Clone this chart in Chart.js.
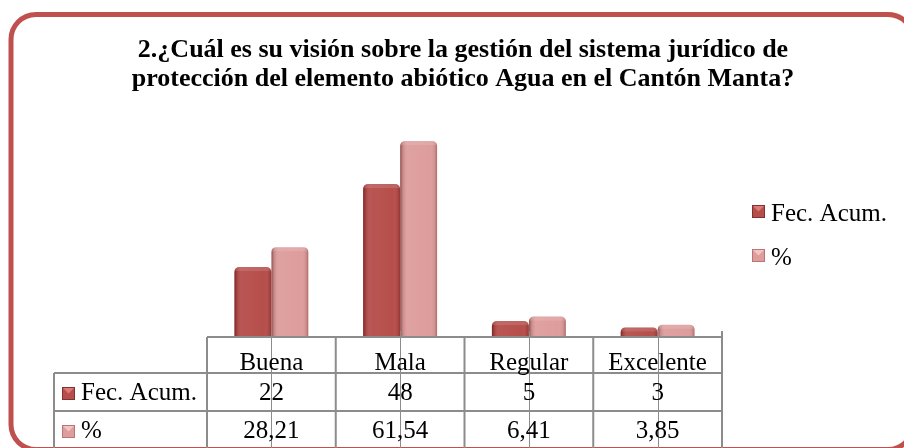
<!DOCTYPE html>
<html lang="es">
<head>
<meta charset="utf-8">
<title>Visión sobre la gestión del sistema jurídico</title>
<script src="https://cdn.jsdelivr.net/npm/chart.js@4.4.0/dist/chart.umd.min.js"></script>
<style>
  html, body { margin: 0; padding: 0; background: #fff; }
  #grafico { display: block; }
</style>
</head>
<body>
<canvas id="grafico" width="904" height="448"></canvas>
<script>
// Datos de la encuesta
const categorias = ["Buena", "Mala", "Regular", "Excelente"];
const fecAcum = [22, 48, 5, 3];
const porcentaje = [28.21, 61.54, 6.41, 3.85];
const series = ["Fec. Acum.", "%"];
const titulo = [
    "2.¿Cuál es su visión sobre la gestión del sistema jurídico de",
    "protección del elemento abiótico Agua en el Cantón Manta?"
];

const colores = ["#b64f4c", "#de9d9d"];
const bordes = ["#7e3331", "#b77574"];
const fuente = "'Liberation Serif', 'Times New Roman', serif";
const gris = "#8c8c8c";

function numero(v) {
    return String(v).replace(".", ",");
}

// cuadrito de la leyenda (con la "pirámide" clara arriba)
function marcador(ctx, x, y, s, i) {
    ctx.save();
    ctx.fillStyle = colores[i];
    ctx.fillRect(x, y, s, s);
    ctx.fillStyle = i === 0 ? "#e07a77" : "#f2c4c3";
    ctx.beginPath();
    ctx.moveTo(x + 1, y + 1);
    ctx.lineTo(x + s - 1, y + 1);
    ctx.lineTo(x + s / 2, y + s * 0.5);
    ctx.closePath();
    ctx.fill();
    ctx.strokeStyle = bordes[i];
    ctx.lineWidth = 1;
    ctx.strokeRect(x + 0.5, y + 0.5, s - 1, s - 1);
    ctx.restore();
}

// fondo, marco redondeado y título (el título del plugin se comprime al ancho del área)
const marco = {
    id: "marco",
    beforeDraw(chart) {
        const ctx = chart.ctx;
        ctx.save();
        ctx.fillStyle = "#fff";
        ctx.fillRect(0, 0, chart.width, chart.height);
        ctx.strokeStyle = "#c0504d";
        ctx.lineWidth = 5;
        ctx.beginPath();
        ctx.roundRect(11, 14.5, 902, 435, 25);
        ctx.stroke();

        ctx.fillStyle = "#000";
        ctx.font = "bold 26px " + fuente;
        ctx.textAlign = "center";
        ctx.textBaseline = "alphabetic";
        titulo.forEach((t, k) => ctx.fillText(t, 463, 57 + k * 29));
        ctx.restore();
    }
};

// sombreado de las barras tipo cilindro
const sombreado = {
    id: "sombreado",
    afterDatasetsDraw(chart) {
        const ctx = chart.ctx;
        chart.data.datasets.forEach((ds, i) => {
            chart.getDatasetMeta(i).data.forEach(bar => {
                const p = bar.getProps(["x", "y", "base", "width"], true);
                const izq = p.x - p.width / 2;
                const g = ctx.createLinearGradient(izq, 0, izq + p.width, 0);
                g.addColorStop(0, "rgba(60,0,0,0.5)");
                g.addColorStop(0.07, "rgba(60,0,0,0.15)");
                g.addColorStop(0.2, "rgba(255,255,255,0.04)");
                g.addColorStop(0.8, "rgba(255,255,255,0.0)");
                g.addColorStop(0.93, "rgba(60,0,0,0.08)");
                g.addColorStop(1, "rgba(60,0,0,0.3)");
                ctx.save();
                ctx.beginPath();
                ctx.roundRect(izq, p.y, p.width, p.base - p.y, [5, 5, 0, 0]);
                ctx.clip();
                ctx.fillStyle = g;
                ctx.fillRect(izq, p.y, p.width, p.base - p.y);
                ctx.fillStyle = "rgba(255,255,255,0.12)";
                ctx.fillRect(izq, p.y, p.width, 4);
                ctx.restore();
            });
        });
    }
};

// eje, tabla de datos y leyenda
const tabla = {
    id: "tabla",
    afterDraw(chart) {
        const ctx = chart.ctx;
        const x = chart.scales.x;
        const area = chart.chartArea;
        const base = area.bottom;
        const ancho = (area.right - area.left) / categorias.length;
        const filas = [base, base + 36, base + 74, base + 112];
        const izqTabla = 54;

        ctx.save();
        ctx.strokeStyle = gris;

        // marcas al centro de cada categoría
        ctx.lineWidth = 1;
        categorias.forEach((c, j) => {
            const cx = Math.round(x.getPixelForValue(j)) + 0.5;
            ctx.beginPath();
            ctx.moveTo(cx, base - 6);
            ctx.lineTo(cx, chart.height);
            ctx.stroke();
        });

        ctx.lineWidth = 2;
        // líneas horizontales
        ctx.beginPath();
        ctx.moveTo(area.left, filas[0]);
        ctx.lineTo(area.right, filas[0]);
        for (let k = 1; k < filas.length; k++) {
            ctx.moveTo(izqTabla, filas[k]);
            ctx.lineTo(area.right, filas[k]);
        }
        // líneas verticales
        for (let j = 0; j <= categorias.length; j++) {
            const bx = area.left + j * ancho;
            ctx.moveTo(bx, j === categorias.length ? base - 6 : base);
            ctx.lineTo(bx, chart.height);
        }
        ctx.moveTo(izqTabla, filas[1]);
        ctx.lineTo(izqTabla, chart.height);
        ctx.stroke();

        // textos
        ctx.fillStyle = "#000";
        ctx.font = "25px " + fuente;
        ctx.textBaseline = "alphabetic";
        ctx.textAlign = "center";
        const valores = [fecAcum, porcentaje];
        categorias.forEach((c, j) => {
            const cx = x.getPixelForValue(j);
            ctx.fillText(c, cx, filas[1] - 3);
            ctx.fillText(numero(valores[0][j]), cx, filas[2] - 11);
            ctx.fillText(numero(valores[1][j]), cx, filas[3] - 11);
        });
        ctx.textAlign = "left";
        series.forEach((s, i) => {
            marcador(ctx, izqTabla + 8, filas[i + 1] + 14, 13, i);
            ctx.fillText(s, izqTabla + 27, filas[i + 2] - 11);
        });

        // leyenda a la derecha
        series.forEach((s, i) => {
            const ly = 205 + i * 44;
            marcador(ctx, area.right + 30, ly, 13, i);
            ctx.fillText(s, area.right + 49, ly + 16);
        });
        ctx.restore();
    }
};

new Chart(document.getElementById("grafico"), {
    type: "bar",
    data: {
        labels: categorias,
        datasets: [{
            label: series[0],
            data: fecAcum,
            backgroundColor: colores[0],
            borderRadius: { topLeft: 5, topRight: 5 },
            borderSkipped: "bottom"
        }, {
            label: series[1],
            data: porcentaje,
            backgroundColor: colores[1],
            borderRadius: { topLeft: 5, topRight: 5 },
            borderSkipped: "bottom"
        }]
    },
    options: {
        responsive: false,
        animation: false,
        layout: { padding: { left: 207, right: 182, top: 114, bottom: 111 } },
        datasets: { bar: { categoryPercentage: 0.575, barPercentage: 1 } },
        scales: {
            x: { display: false },
            y: { display: false, min: 0, max: 70 }
        },
        plugins: {
            legend: { display: false },
            tooltip: { enabled: false },
            title: { display: false }
        }
    },
    plugins: [marco, sombreado, tabla]
});
</script>
</body>
</html>
